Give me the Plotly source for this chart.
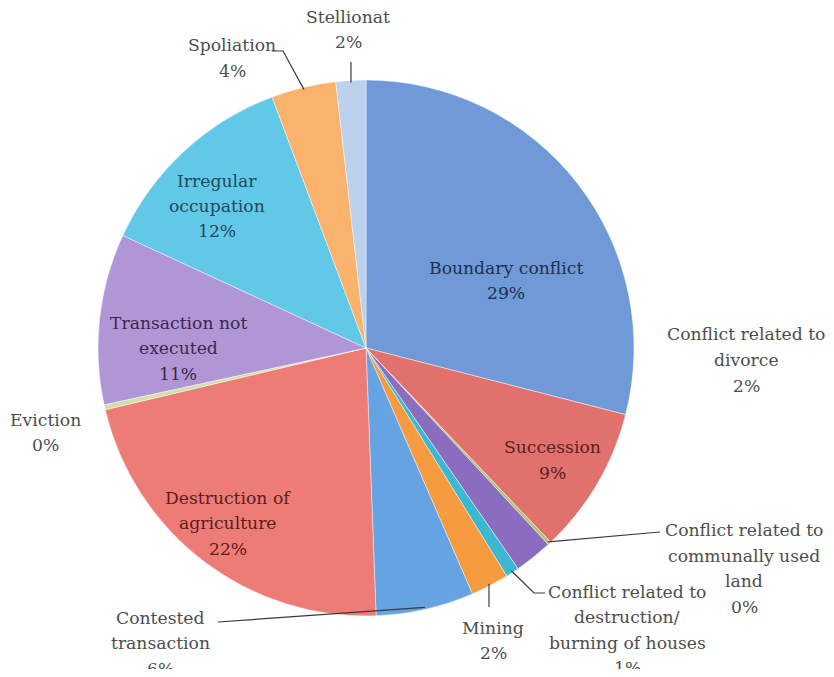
import math
import plotly.graph_objects as go

# ---- data (clockwise from 12 o'clock) ----
categories = [
    "Boundary conflict", "Succession", "Conflict related to communally used land",
    "Conflict related to divorce", "Conflict related to destruction/ burning of houses",
    "Mining", "Contested transaction", "Destruction of agriculture", "Eviction",
    "Transaction not executed", "Irregular occupation", "Spoliation", "Stellionat",
]
values = [29.0, 8.9, 0.2, 2.3, 0.8, 2.3, 5.9, 21.9, 0.3, 10.3, 12.4, 3.9, 1.8]
pct_labels = ["29%", "9%", "0%", "2%", "1%", "2%", "6%", "22%", "0%", "11%", "12%", "4%", "2%"]
label_lines = [
    ["Boundary conflict"], ["Succession"], ["Conflict related to", "communally used", "land"],
    ["Conflict related to", "divorce"], ["Conflict related to", "destruction/", "burning of houses"],
    ["Mining"], ["Contested", "transaction"], ["Destruction of", "agriculture"], ["Eviction"],
    ["Transaction not", "executed"], ["Irregular", "occupation"], ["Spoliation"], ["Stellionat"],
]
colors = ["#6F9AD7", "#E0716C", "#B5C46E", "#8B6DBF", "#3DB8D3", "#F79B40",
          "#66A3E3", "#EE7C76", "#CFE0A8", "#B196D6", "#62C8E7", "#F9B36C", "#BCD1EC"]

# ---- geometry: reference pixels; page body has an 8px margin ----
OFF = 8
W, H = 834 - 2 * OFF, 677 - 2 * OFF
CX, CY, R = 366, 348, 268
LINE = 25.5

def px(x, y):
    return (x - OFF) / W, 1 - (y - OFF) / H

fig = go.Figure()
x0, y1 = px(CX - R, CY - R)
x1, y0 = px(CX + R, CY + R)
fig.add_trace(go.Pie(
    labels=categories, values=values, sort=False, direction="clockwise", rotation=0,
    textinfo="none", hoverinfo="label+percent",
    marker=dict(colors=colors, line=dict(color="rgba(255,255,255,0.55)", width=0.8)),
    domain=dict(x=[x0, x1], y=[y0, y1]),
    showlegend=False,
))

# label positions (centre of text block, reference pixels) and colours
label_pos = {
    0: (506, 280.5, "#1E3050"),
    1: (552, 460, "#5A2220"),
    2: (744, 568.5, "#4D4D4D"),
    3: (746, 360, "#4D4D4D"),
    4: (627, 630, "#4D4D4D"),
    5: (493, 640.5, "#4D4D4D"),
    6: (160, 643, "#4D4D4D"),
    7: (228, 523, "#5A1E1C"),
    8: (45, 432.5, "#4D4D4D"),
    9: (178, 348, "#3A2850"),
    10: (217, 206, "#1E4A5A"),
    11: (232, 58, "#4D4D4D"),
    12: (348, 29.5, "#4D4D4D"),
}

annotations = []
for i, (x, y, col) in label_pos.items():
    lines = label_lines[i] + [pct_labels[i]]
    n = len(lines)
    for k, line in enumerate(lines):
        ly = y + (k - (n - 1) / 2) * LINE
        ax_, ay_ = px(x, ly)
        annotations.append(dict(
            x=ax_, y=ay_, xref="paper", yref="paper", text=line, showarrow=False,
            xanchor="center", yanchor="middle", align="center",
            font=dict(family="DejaVu Serif", size=17.2, color=col),
        ))

# leader lines: anchor on the rim at each slice's mid-angle, then to the label
total = sum(values)
cum = []
acc = 0.0
for v in values:
    cum.append(acc + v / 2)
    acc += v

def rim(i, rr=R):
    th = 2 * math.pi * cum[i] / total
    return CX + rr * math.sin(th), CY - rr * math.cos(th)

leaders = {
    12: [(None, 62)],
    11: [(283, 51), (272, 51)],
    2: [(660, 532)],
    4: [(534, 593), (545, 593)],
    5: [(None, 607)],
    6: [(218, 622)],
}
shapes = []
for i, pts in leaders.items():
    sx, sy = rim(i, R - 2)
    pts = [(sx if x is None else x, y) for x, y in pts]
    coords = [(sx, sy)] + pts
    path = ""
    for k, (x, y) in enumerate(coords):
        fx, fy = px(x, y)
        path += ("M" if k == 0 else " L") + f"{fx:.5f},{fy:.5f}"
    shapes.append(dict(type="path", xref="paper", yref="paper", path=path,
                       line=dict(color="#3A3A3A", width=1.2)))

fig.update_layout(
    width=W, height=H, margin=dict(l=0, r=0, t=0, b=0),
    paper_bgcolor="white", plot_bgcolor="white",
    annotations=annotations, shapes=shapes,
)

fig.write_html("out.html")
